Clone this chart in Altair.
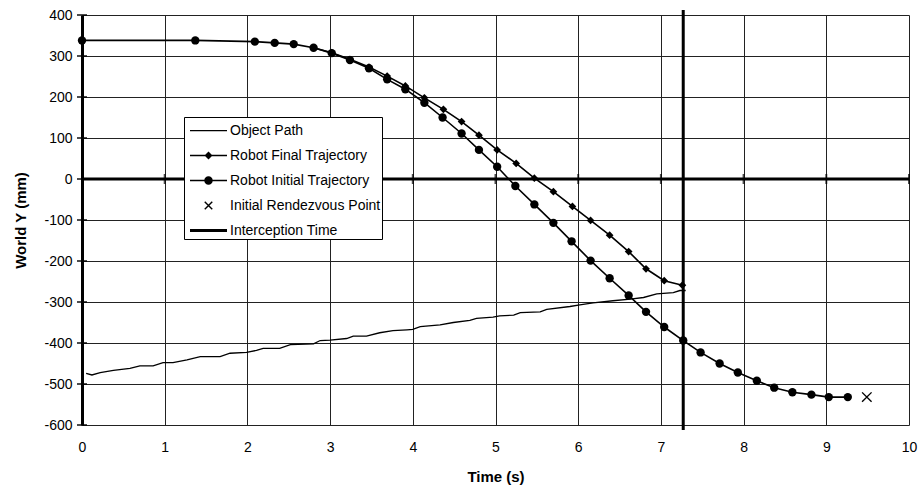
import altair as alt
import pandas as pd

# Object path (world Y of the tracked object over time)
object_t = [0.05, 0.12, 0.22, 0.38, 0.58, 0.70, 0.86, 0.98, 1.10, 1.27, 1.43, 1.67, 1.79, 1.99,
            2.11, 2.19, 2.39, 2.52, 2.80, 2.88, 3.00, 3.20, 3.28, 3.44, 3.60, 3.76, 3.93, 4.00,
            4.09, 4.33, 4.49, 4.69, 4.77, 4.97, 5.05, 5.22, 5.30, 5.54, 5.62, 5.90, 6.02, 6.18,
            6.42, 6.63, 6.79, 6.95, 7.15, 7.23, 7.30]
object_y = [-474, -478, -472, -467, -462, -456, -456, -448, -448, -441, -433, -433, -425, -423,
            -418, -413, -413, -404, -402, -394, -393, -389, -383, -383, -375, -370, -368, -367,
            -360, -356, -350, -345, -340, -337, -334, -332, -326, -324, -318, -311, -307, -302,
            -297, -293, -289, -280, -277, -272, -272]

# Robot final trajectory
final_t = [2.80, 3.02, 3.24, 3.47, 3.69, 3.91, 4.14, 4.37, 4.59, 4.80, 5.02, 5.25, 5.47, 5.70,
           5.93, 6.15, 6.38, 6.61, 6.82, 7.04, 7.26]
final_y = [320, 308, 292, 273, 251, 227, 198, 170, 140, 107, 71, 38, 2, -31,
           -67, -101, -137, -177, -219, -248, -259]

# Robot initial trajectory
initial_t = [0.00, 1.37, 2.09, 2.33, 2.56, 2.80, 3.02, 3.24, 3.47, 3.69, 3.91, 4.14, 4.36, 4.59,
             4.80, 5.02, 5.24, 5.47, 5.70, 5.92, 6.15, 6.38, 6.61, 6.82, 7.04, 7.27, 7.48, 7.71,
             7.93, 8.16, 8.37, 8.59, 8.82, 9.03, 9.26]
initial_y = [338, 338, 335, 332, 329, 320, 307, 290, 270, 243, 219, 186, 150, 111,
             71, 30, -17, -62, -107, -152, -199, -242, -284, -324, -361, -394, -423, -450,
             -472, -492, -509, -520, -526, -532, -532]

# Initial rendezvous point and interception time
rendezvous_t = [9.49]
rendezvous_y = [-532]
intercept_t = [7.27]

x_ticks = list(range(0, 11))
y_ticks = list(range(-600, 401, 100))

series_names = ["Object Path", "Robot Final Trajectory", "Robot Initial Trajectory",
                "Initial Rendezvous Point", "Interception Time"]

FONT = "Liberation Sans"

obj_df = pd.DataFrame({"t": object_t, "y": object_y})
fin_df = pd.DataFrame({"t": final_t, "y": final_y})
ini_df = pd.DataFrame({"t": initial_t, "y": initial_y})
rdv_df = pd.DataFrame({"t": rendezvous_t, "y": rendezvous_y})
int_df = pd.DataFrame({"t": intercept_t})
xtick_df = pd.DataFrame({"t": x_ticks[1:], "y": [0] * (len(x_ticks) - 1)})
ytick_df = pd.DataFrame({"t": [0] * len(y_ticks), "y": y_ticks})
zero_df = pd.DataFrame({"y": [0]})
legend_df = pd.DataFrame({"series": series_names, "t": [0] * 5, "y": [0] * 5})

xscale = alt.Scale(domain=[0, 10], nice=False, zero=False)
yscale = alt.Scale(domain=[-600, 400], nice=False, zero=False)
xaxis = alt.Axis(values=x_ticks, title="Time (s)", ticks=False, domain=False, grid=True,
                 labelPadding=15, titlePadding=15, labelFlush=False)
yaxis = alt.Axis(values=y_ticks, title="World Y (mm)", ticks=False, domain=True,
                 domainWidth=3, domainColor="black", grid=True, labelPadding=10,
                 titlePadding=15, labelFlush=False,
                 labelExpr="datum.value < 0 ? '-' + abs(datum.value) : '' + datum.value")


def X(field):
    return alt.X(field, type="quantitative", scale=xscale, axis=xaxis)


def Y(field):
    return alt.Y(field, type="quantitative", scale=yscale, axis=yaxis)


# Horizontal axis line drawn through zero, with crossing ticks
zero_line = alt.Chart(zero_df).mark_rule(color="black", strokeWidth=3).encode(y=Y("y"))
zero_ticks = alt.Chart(xtick_df).mark_tick(
    orient="vertical", size=10, thickness=2, color="black"
).encode(x=X("t"), y=Y("y"))
y_axis_ticks = alt.Chart(ytick_df).mark_tick(
    orient="horizontal", size=10, thickness=2, color="black"
).encode(x=X("t"), y=Y("y"))

object_line = alt.Chart(obj_df).mark_line(color="black", strokeWidth=1.3).encode(
    x=X("t"), y=Y("y"))

final_line = alt.Chart(fin_df).mark_line(color="black", strokeWidth=1.6).encode(
    x=X("t"), y=Y("y"))
final_pts = alt.Chart(fin_df).mark_point(
    shape="diamond", size=60, filled=True, color="black", opacity=1
).encode(x=X("t"), y=Y("y"))

initial_line = alt.Chart(ini_df).mark_line(color="black", strokeWidth=1.6).encode(
    x=X("t"), y=Y("y"))
initial_pts = alt.Chart(ini_df).mark_point(
    shape="circle", size=70, filled=True, color="black", opacity=1
).encode(x=X("t"), y=Y("y"))

rendezvous = alt.Chart(rdv_df).mark_point(
    shape="M-1,-1L1,1M-1,1L1,-1", size=90, filled=False, color="black",
    strokeWidth=1.4, opacity=1
).encode(x=X("t"), y=Y("y"))

intercept = alt.Chart(int_df).mark_rule(color="black", strokeWidth=3).encode(
    x=X("t"), y=alt.value(-5), y2=alt.value(415))

# Legend glyphs as filled outlines (line bars, marker, cross), from an explicit shape scale;
# the layer itself draws nothing
legend_shapes = [
    "M-1.48,-0.05H1.48V0.05H-1.48Z",
    "M-1.48,-0.065H1.48V0.065H-1.48ZM0,-0.32L0.32,0L0,0.32L-0.32,0Z",
    "M-1.48,-0.065H1.48V0.065H-1.48ZM-0.34,0A0.34,0.34,0,1,1,0.34,0A0.34,0.34,0,1,1,-0.34,0Z",
    "M-0.34,-0.26L-0.26,-0.34L0.34,0.26L0.26,0.34ZM-0.34,0.26L0.26,-0.34L0.34,-0.26L-0.26,0.34Z",
    "M-1.48,-0.12H1.48V0.12H-1.48Z",
]
legend_layer = alt.Chart(legend_df).transform_filter("datum.t > 100").mark_point(
    filled=True, fill="black", opacity=1
).encode(
    x=X("t"), y=Y("y"),
    shape=alt.Shape(
        "series:N",
        scale=alt.Scale(domain=series_names, range=legend_shapes),
        legend=alt.Legend(
            orient="none", legendX=102, legendY=102, title=None,
            fillColor="white", strokeColor="black", padding=1,
            symbolOffset=11, labelOffset=9, rowPadding=5,
            symbolSize=625, symbolFillColor="black", symbolStrokeWidth=0,
            symbolOpacity=1,
            labelFont=FONT, labelFontSize=14, labelColor="black", labelLimit=400,
        ),
    ),
)

chart = alt.layer(
    zero_line, zero_ticks, y_axis_ticks, object_line,
    final_line, initial_line, final_pts, initial_pts, rendezvous, intercept,
    legend_layer,
).properties(
    width=827, height=410,
    autosize=alt.AutoSizeParams(type="none"),
    padding={"left": 82, "top": 15, "right": 12, "bottom": 66},
    background="white",
).configure_view(
    stroke=None
).configure_axis(
    labelFont=FONT, labelFontSize=14, labelColor="black",
    titleFont=FONT, titleFontSize=15, titleFontWeight="bold", titleColor="black",
    gridColor="#222222", gridWidth=1, gridOpacity=1,
)

chart.save("out.html", embed_options={"renderer": "svg", "actions": False})
